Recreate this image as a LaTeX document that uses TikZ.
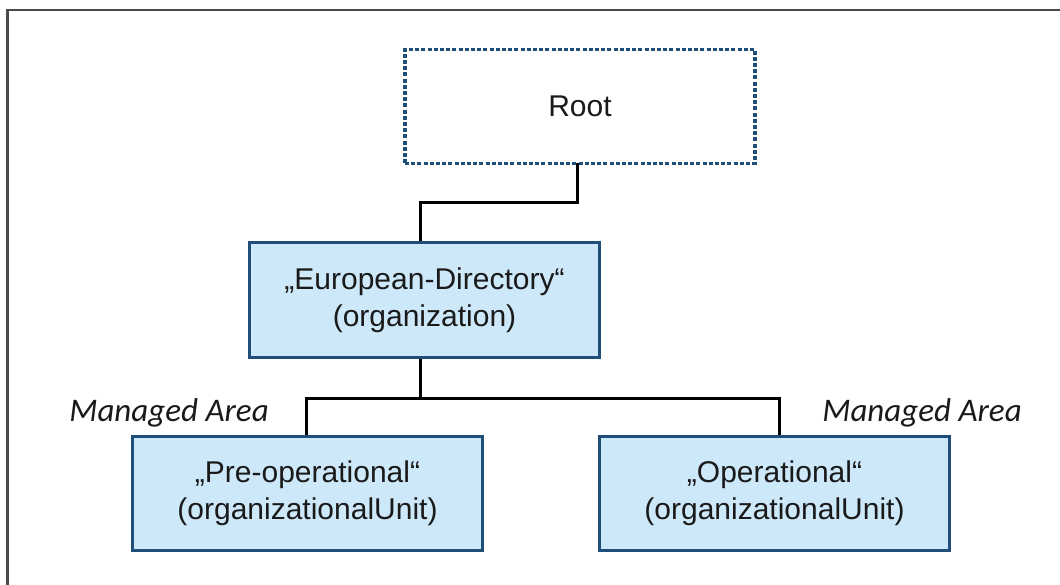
\documentclass[tikz,border=0pt]{standalone}
\usepackage{fontspec}
\setmainfont{Liberation Sans}
\newfontfamily\calibfont{Carlito}
\definecolor{boxblue}{HTML}{1F4E79}
\definecolor{boxfill}{HTML}{CDE8F9}
\definecolor{textc}{HTML}{1A1A1A}
\definecolor{framec}{HTML}{4A4A4A}
\begin{document}
\begin{tikzpicture}[x=1pt,y=-1pt,
  box/.style={draw=boxblue, line width=3pt, fill=boxfill, minimum width=350pt, minimum height=114pt,
    font=\fontsize{30}{37}\selectfont, text=textc, align=center, inner sep=0pt},
  rootbox/.style={box, fill=white, line width=3.5pt, dash pattern=on 4pt off 2.2pt},
  conn/.style={draw=black, line width=3pt},
  ma/.style={font=\calibfont\itshape\fontsize{33}{38}\selectfont, text=textc, inner sep=0pt},
  framel/.style={draw=framec, line width=2.5pt}]
\useasboundingbox (0,0) rectangle (1060,585);
\fill[white] (0,0) rectangle (1060,585);
\draw[framel] (1062,10) -- (7.5,10) -- (7.5,587);

\draw[conn] (577,160) -- (577,203) -- (420,203) -- (420,245);
\draw[conn] (420,355) -- (420,398);
\draw[conn] (306,438) -- (306,398) -- (779,398) -- (779,438);

\node[rootbox] (root) at (580,106.5) {Root};
\node[box] (eu) at (424.5,300) {„European-Directory“\\(organization)};
\node[box] (pre) at (307.5,493.5) {„Pre-operational“\\(organizationalUnit)};
\node[box] (op) at (774.5,493.5) {„Operational“\\(organizationalUnit)};

\node[ma] (ma1) at (169,413) {Managed Area};
\node[ma] (ma2) at (922,413) {Managed Area};
\end{tikzpicture}
\end{document}
